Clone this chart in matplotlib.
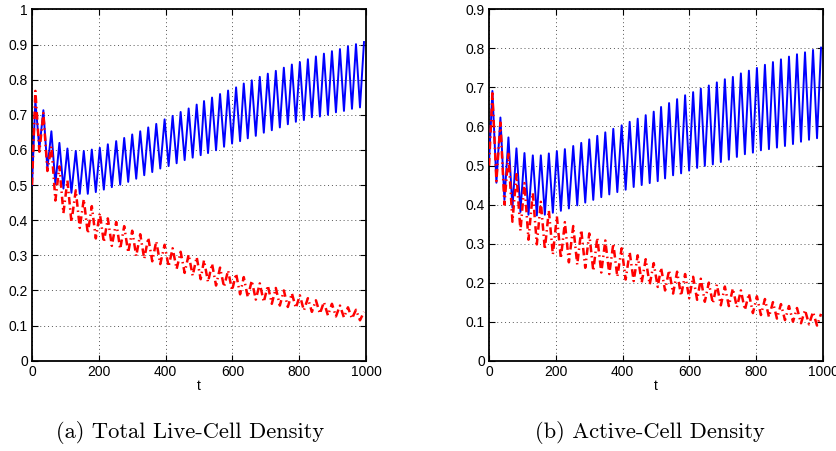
"""
plot.py — live-cell and active-cell density vs t, two panels side by side.
Blue = solid curve, red = dash-dot curve; both oscillate with a ~24 t period.
"""
import matplotlib
matplotlib.use("Agg")
import matplotlib.pyplot as plt

# times of the local maxima / minima (shared by all four curves)
PEAK_T = [10, 34, 58, 82, 106, 131, 155, 179, 203, 227,
          252, 276, 300, 324, 348, 372, 397, 421, 445, 469,
          493, 515, 539, 563, 587, 611, 634, 658, 682, 706,
          730, 754, 778, 802, 826, 850, 874, 898, 922, 946,
          970, 994]
TROUGH_T = [22, 46, 70, 94, 118, 143, 167, 191, 215,
            239, 264, 288, 312, 336, 360, 384, 409, 433, 457,
            481, 505, 527, 551, 575, 599, 623, 646, 670, 694,
            718, 742, 766, 790, 814, 838, 862, 886, 910, 934,
            958, 982]

# (a) Total live-cell density
BLUE_A_START = 0.50
BLUE_A_PEAK = [0.740, 0.713, 0.653, 0.620, 0.604, 0.597, 0.597, 0.601, 0.606, 0.616,
               0.625, 0.634, 0.644, 0.653, 0.664, 0.674, 0.687, 0.697, 0.708, 0.718,
               0.729, 0.739, 0.749, 0.759, 0.769, 0.778, 0.789, 0.798, 0.808, 0.817,
               0.825, 0.834, 0.843, 0.850, 0.858, 0.866, 0.874, 0.881, 0.887, 0.895,
               0.901, 0.907]
BLUE_A_TROUGH = [0.604, 0.547, 0.503, 0.490, 0.478, 0.475, 0.475, 0.480, 0.487,
                 0.494, 0.501, 0.509, 0.518, 0.528, 0.537, 0.547, 0.554, 0.562, 0.571,
                 0.578, 0.585, 0.591, 0.599, 0.609, 0.618, 0.625, 0.633, 0.640, 0.649,
                 0.656, 0.664, 0.673, 0.680, 0.685, 0.693, 0.695, 0.700, 0.707, 0.711,
                 0.717, 0.721]
RED_A_START = 0.50
RED_A_PEAK = [0.768, 0.705, 0.610, 0.553, 0.513, 0.485, 0.460, 0.440, 0.420, 0.405,
              0.395, 0.383, 0.370, 0.360, 0.350, 0.340, 0.330, 0.320, 0.310, 0.302,
              0.295, 0.286, 0.276, 0.265, 0.257, 0.248, 0.238, 0.228, 0.220, 0.214,
              0.207, 0.200, 0.192, 0.186, 0.178, 0.172, 0.167, 0.162, 0.157, 0.152,
              0.145, 0.139]
RED_A_TROUGH = [0.595, 0.540, 0.456, 0.420, 0.395, 0.378, 0.362, 0.348, 0.337,
                0.327, 0.318, 0.308, 0.298, 0.290, 0.283, 0.275, 0.268, 0.261, 0.250,
                0.242, 0.232, 0.224, 0.214, 0.210, 0.200, 0.189, 0.181, 0.174, 0.167,
                0.162, 0.157, 0.153, 0.150, 0.143, 0.139, 0.134, 0.129, 0.126, 0.123,
                0.120, 0.115]

# (b) Active-cell density
BLUE_B_START = 0.51
BLUE_B_PEAK = [0.691, 0.623, 0.572, 0.544, 0.532, 0.526, 0.526, 0.531, 0.537, 0.542,
               0.550, 0.558, 0.567, 0.576, 0.585, 0.594, 0.603, 0.612, 0.620, 0.629,
               0.638, 0.650, 0.660, 0.670, 0.680, 0.688, 0.697, 0.705, 0.713, 0.721,
               0.727, 0.736, 0.743, 0.750, 0.758, 0.765, 0.772, 0.779, 0.785, 0.790,
               0.796, 0.802]
BLUE_B_TROUGH = [0.456, 0.412, 0.392, 0.381, 0.374, 0.372, 0.374, 0.379, 0.384,
                 0.390, 0.398, 0.405, 0.412, 0.419, 0.426, 0.432, 0.438, 0.445, 0.450,
                 0.455, 0.460, 0.467, 0.475, 0.480, 0.487, 0.494, 0.499, 0.503, 0.509,
                 0.515, 0.522, 0.529, 0.533, 0.539, 0.542, 0.546, 0.550, 0.555, 0.561,
                 0.566, 0.570]
RED_B_START = 0.50
RED_B_PEAK = [0.685, 0.610, 0.530, 0.478, 0.455, 0.430, 0.407, 0.385, 0.370, 0.355,
              0.345, 0.335, 0.326, 0.315, 0.308, 0.300, 0.288, 0.278, 0.270, 0.260,
              0.250, 0.238, 0.232, 0.228, 0.222, 0.215, 0.210, 0.200, 0.195, 0.190,
              0.185, 0.180, 0.172, 0.165, 0.158, 0.150, 0.145, 0.140, 0.135, 0.130,
              0.125, 0.120]
RED_B_TROUGH = [0.460, 0.400, 0.356, 0.333, 0.310, 0.298, 0.285, 0.272, 0.262,
                0.252, 0.246, 0.238, 0.230, 0.226, 0.222, 0.215, 0.208, 0.204, 0.200,
                0.195, 0.189, 0.180, 0.172, 0.166, 0.160, 0.156, 0.151, 0.147, 0.142,
                0.140, 0.137, 0.130, 0.122, 0.117, 0.112, 0.108, 0.104, 0.100, 0.096,
                0.093, 0.090]

CAPTIONS = ["(a) Total Live-Cell Density", "(b) Active-Cell Density"]
CAPTION_X = [0.227, 0.7775]
YMAX = [1.0, 0.9]


def curve(start, peaks, troughs):
    pts = [(0, start)] + list(zip(PEAK_T, peaks)) + list(zip(TROUGH_T, troughs))
    pts.sort()
    return [p[0] for p in pts], [p[1] for p in pts]


def style_axes(ax, ymax):
    ax.set_xlim(0, 1000)
    ax.set_ylim(0, ymax)
    ax.set_xticks([0, 200, 400, 600, 800, 1000])
    ax.set_yticks([round(0.1 * i, 1) for i in range(int(round(ymax * 10)) + 1)])
    ax.yaxis.set_major_formatter(plt.FuncFormatter(lambda v, _: f"{v:g}"))
    ax.tick_params(direction="in", top=True, right=True, length=4, width=0.8,
                   labelsize=10, pad=3)
    ax.grid(True, linestyle=(0, (1, 3)), color="#555555", linewidth=0.7)
    for sp in ax.spines.values():
        sp.set_linewidth(1.3)
    ax.set_xlabel("t", fontsize=10, labelpad=0)


plt.rcParams["font.family"] = ["Liberation Sans", "DejaVu Sans"]
fig = plt.figure(figsize=(8.36, 4.51), dpi=100)
ax_a = fig.add_axes([0.0383, 0.2002, 0.3995, 0.779])
ax_b = fig.add_axes([0.585, 0.2002, 0.3995, 0.779])

panels = [
    (ax_a, (BLUE_A_START, BLUE_A_PEAK, BLUE_A_TROUGH), (RED_A_START, RED_A_PEAK, RED_A_TROUGH)),
    (ax_b, (BLUE_B_START, BLUE_B_PEAK, BLUE_B_TROUGH), (RED_B_START, RED_B_PEAK, RED_B_TROUGH)),
]
for i, (ax, blue, red) in enumerate(panels):
    bx, by = curve(*blue)
    rx, ry = curve(*red)
    ax.plot(bx, by, color="#0000ff", linewidth=1.4, zorder=3)
    ax.plot(rx, ry, color="#ff0000", linewidth=1.8, linestyle=(0, (3, 1.5, 0.6, 1.5)), zorder=4)
    style_axes(ax, YMAX[i])
    fig.text(CAPTION_X[i], 0.042, CAPTIONS[i], ha="center", va="center",
             fontsize=16.2, family="cmr10")

fig.savefig("out.png", dpi=100)
